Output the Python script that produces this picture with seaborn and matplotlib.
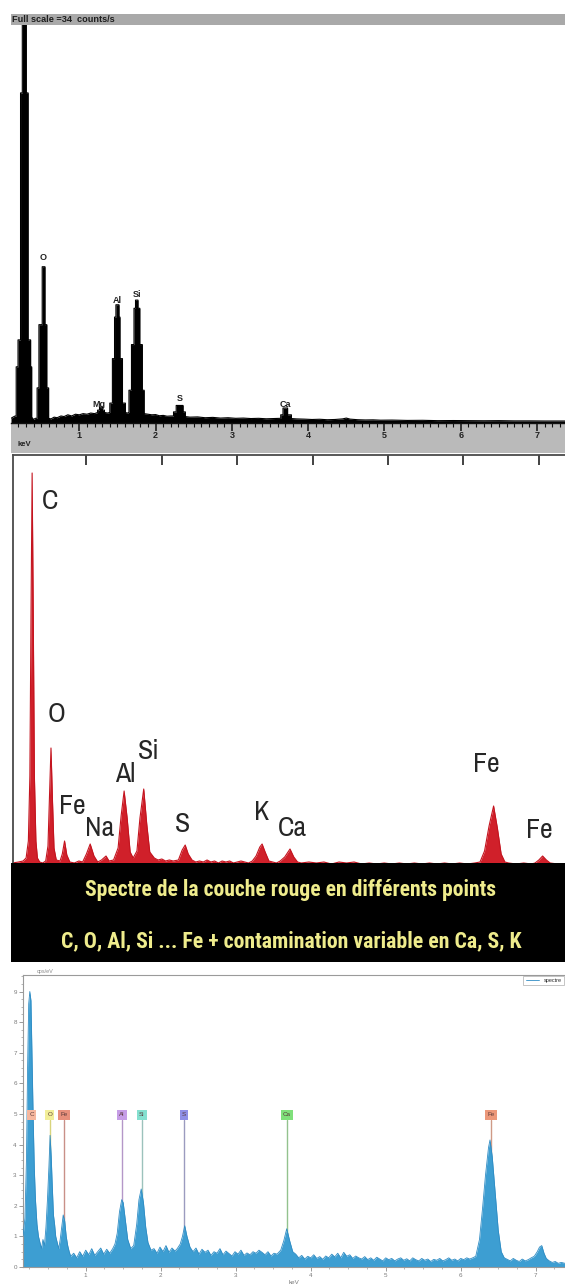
import numpy as np
import pandas as pd
import matplotlib
matplotlib.use("Agg")
import matplotlib.pyplot as plt
from matplotlib.ticker import FixedLocator, MultipleLocator, NullLocator
from matplotlib import font_manager as fm
import seaborn as sns

# ---------------------------------------------------------------- data
# Panel 1 : black EDS spectrum (counts/s, full scale 34)
p1_points = [
    (0.105, 0.4), (0.13, 0.5), (0.16, 0.6), (0.173, 0.6), (0.173, 4.8), (0.197, 4.8), (0.197, 7.1),
    (0.230, 7.1), (0.230, 28.2), (0.253, 28.2), (0.253, 45), (0.305, 45), (0.305, 28.2), (0.329, 28.2),
    (0.329, 7.1), (0.362, 7.1), (0.362, 4.8), (0.376, 4.8), (0.376, 0.5), (0.40, 0.3), (0.425, 0.4),
    (0.447, 0.4), (0.447, 3.0), (0.471, 3.0), (0.471, 8.4), (0.514, 8.4), (0.514, 13.35), (0.550, 13.35),
    (0.550, 8.4), (0.574, 8.4), (0.574, 3.0), (0.598, 3.0), (0.598, 0.4), (0.63, 0.35), (0.67, 0.5),
    (0.71, 0.45), (0.76, 0.6), (0.80, 0.55), (0.85, 0.7), (0.90, 0.6), (0.95, 0.75), (1.00, 0.7),
    (1.05, 0.8), (1.10, 0.75), (1.15, 0.85), (1.20, 0.8), (1.24, 0.9), (1.24, 1.1), (1.265, 1.1),
    (1.265, 1.37), (1.305, 1.37), (1.305, 1.1), (1.33, 1.1), (1.33, 0.9), (1.37, 0.85), (1.40, 0.9),
    (1.40, 1.7), (1.434, 1.7), (1.434, 5.5), (1.462, 5.5), (1.462, 9.05), (1.48, 9.05), (1.48, 10.1),
    (1.52, 10.1), (1.52, 9.05), (1.533, 9.05), (1.533, 5.5), (1.566, 5.5), (1.566, 1.7), (1.604, 1.7),
    (1.604, 0.9), (1.63, 0.85), (1.651, 0.9), (1.651, 2.8), (1.684, 2.8), (1.684, 6.7), (1.717, 6.7),
    (1.717, 9.8), (1.737, 9.8), (1.737, 10.5), (1.769, 10.5), (1.769, 9.8), (1.793, 9.8), (1.793, 6.7),
    (1.826, 6.7), (1.826, 2.8), (1.85, 2.8), (1.85, 0.8), (1.90, 0.75), (1.95, 0.7), (2.00, 0.72),
    (2.05, 0.62), (2.10, 0.65), (2.15, 0.58), (2.20, 0.6), (2.235, 0.6), (2.235, 0.95), (2.27, 0.95),
    (2.27, 1.5), (2.36, 1.5), (2.36, 0.95), (2.39, 0.95), (2.39, 0.55), (2.45, 0.5), (2.55, 0.52),
    (2.65, 0.45), (2.75, 0.48), (2.85, 0.42), (2.95, 0.45), (3.05, 0.4), (3.15, 0.42), (3.25, 0.38),
    (3.35, 0.4), (3.45, 0.36), (3.55, 0.38), (3.64, 0.4), (3.64, 0.7), (3.67, 0.7), (3.67, 1.28),
    (3.73, 1.28), (3.73, 0.7), (3.78, 0.7), (3.78, 0.38), (3.85, 0.35), (3.95, 0.33), (4.05, 0.3),
    (4.15, 0.32), (4.25, 0.28), (4.35, 0.3), (4.45, 0.35), (4.50, 0.42), (4.55, 0.33), (4.65, 0.28),
    (4.75, 0.26), (4.85, 0.27), (4.95, 0.24), (5.1, 0.25), (5.3, 0.22), (5.5, 0.23), (5.7, 0.2),
    (5.9, 0.21), (6.1, 0.2), (6.3, 0.19), (6.5, 0.2), (6.7, 0.18), (6.9, 0.18), (7.1, 0.17),
    (7.3, 0.17), (7.366, 0.17),
]
p1_labels = ["O", "Mg", "Al", "Si", "S", "Ca"]
p1_label_kev = [0.527, 1.258, 1.494, 1.756, 2.313, 3.70]
p1_label_cps = [14.1, 1.6, 10.5, 11.0, 2.1, 1.6]
p1_ticks = [1, 2, 3, 4, 5, 6, 7]
p1_header = "Full scale =34  counts/s"

# Panel 2 : red EDS spectrum (arbitrary counts)
p2_points = [
    (0.02, 3), (0.10, 4), (0.16, 5), (0.20, 8), (0.23, 25), (0.25, 90), (0.265, 250), (0.28, 393),
    (0.295, 250), (0.31, 90), (0.33, 25), (0.35, 8), (0.38, 4), (0.42, 3), (0.46, 5), (0.49, 20),
    (0.51, 70), (0.53, 118), (0.55, 65), (0.57, 18), (0.60, 6), (0.65, 5), (0.68, 12), (0.71, 25),
    (0.74, 11), (0.78, 4), (0.84, 3), (0.90, 5), (0.95, 4), (1.00, 12), (1.05, 22), (1.10, 10),
    (1.15, 4), (1.20, 6), (1.26, 10), (1.30, 5), (1.36, 6), (1.42, 18), (1.46, 50), (1.50, 75),
    (1.54, 48), (1.58, 14), (1.62, 8), (1.67, 15), (1.71, 48), (1.76, 77), (1.80, 42), (1.84, 14),
    (1.90, 8), (1.95, 6), (2.00, 7), (2.05, 5), (2.10, 6), (2.15, 5), (2.22, 6), (2.27, 16),
    (2.31, 21), (2.35, 12), (2.40, 6), (2.45, 4), (2.50, 5), (2.55, 4), (2.60, 6), (2.65, 4),
    (2.70, 5), (2.75, 3), (2.80, 5), (2.85, 4), (2.90, 5), (2.95, 3), (3.00, 4), (3.05, 5),
    (3.10, 4), (3.15, 3), (3.20, 5), (3.25, 10), (3.30, 19), (3.33, 22), (3.37, 14), (3.42, 5),
    (3.47, 4), (3.52, 3), (3.57, 5), (3.63, 9), (3.70, 17), (3.75, 9), (3.80, 4), (3.85, 3),
    (3.95, 4), (4.05, 3), (4.15, 4), (4.25, 2), (4.35, 4), (4.45, 3), (4.55, 4), (4.65, 2),
    (4.75, 3), (4.85, 2), (4.95, 3), (5.05, 2), (5.15, 3), (5.25, 2), (5.35, 3), (5.45, 2),
    (5.55, 3), (5.65, 2), (5.75, 3), (5.85, 2), (5.95, 3), (6.05, 2), (6.15, 3), (6.22, 4),
    (6.28, 15), (6.34, 40), (6.40, 60), (6.45, 38), (6.50, 12), (6.55, 4), (6.60, 3), (6.70, 2),
    (6.80, 3), (6.90, 2), (6.95, 3), (7.00, 6), (7.05, 10), (7.10, 6), (7.15, 3), (7.25, 2),
    (7.35, 2),
]
p2_labels = ["C", "O", "Fe", "Na", "Al", "Si", "S", "K", "Ca", "Fe", "Fe"]
p2_label_kev = [0.52, 0.60, 0.81, 1.17, 1.51, 1.82, 2.27, 3.33, 3.73, 6.30, 7.00]
p2_label_cnt = [365, 152, 60, 38, 92, 115, 42, 53, 38, 102, 35]
p2_ticks = [1, 2, 3, 4, 5, 6, 7]

# Banner text
banner_lines = ["Spectre de la couche rouge en différents points",
                "C, O, Al, Si ... Fe + contamination variable en Ca, S, K"]

# Panel 4 : blue EDS spectrum
p4_points = [
    (0.164, 1.0), (0.19, 1.6), (0.21, 3.5), (0.225, 6.5), (0.24, 8.6), (0.255, 9.0), (0.27, 8.7),
    (0.285, 6.8), (0.30, 4.8), (0.315, 3.2), (0.33, 2.2), (0.35, 1.4), (0.37, 1.0), (0.39, 0.8),
    (0.41, 0.6), (0.43, 0.9), (0.45, 0.7), (0.47, 1.3), (0.49, 2.2), (0.51, 3.3), (0.525, 4.3),
    (0.54, 3.6), (0.555, 2.6), (0.57, 1.7), (0.585, 1.4), (0.60, 1.0), (0.62, 0.8), (0.64, 0.6),
    (0.66, 0.9), (0.68, 1.3), (0.70, 1.7), (0.72, 1.5), (0.74, 1.0), (0.76, 0.7), (0.78, 0.5),
    (0.80, 0.35), (0.84, 0.45), (0.88, 0.3), (0.92, 0.5), (0.96, 0.35), (1.00, 0.55), (1.04, 0.4),
    (1.08, 0.6), (1.12, 0.38), (1.16, 0.5), (1.20, 0.62), (1.24, 0.42), (1.28, 0.58), (1.32, 0.45),
    (1.36, 0.6), (1.39, 0.75), (1.42, 1.1), (1.45, 1.8), (1.48, 2.2), (1.50, 2.1), (1.53, 1.5),
    (1.56, 0.9), (1.60, 0.6), (1.64, 0.7), (1.68, 1.4), (1.71, 2.2), (1.74, 2.55), (1.77, 2.1),
    (1.80, 1.3), (1.83, 0.8), (1.87, 0.55), (1.91, 0.6), (1.95, 0.45), (1.99, 0.65), (2.03, 0.5),
    (2.07, 0.7), (2.11, 0.48), (2.15, 0.62), (2.19, 0.52), (2.22, 0.6), (2.26, 0.75), (2.29, 1.0),
    (2.32, 1.35), (2.35, 1.0), (2.39, 0.65), (2.43, 0.5), (2.47, 0.62), (2.51, 0.42), (2.55, 0.58),
    (2.59, 0.48), (2.63, 0.55), (2.67, 0.38), (2.71, 0.5), (2.75, 0.45), (2.79, 0.6), (2.83, 0.4),
    (2.87, 0.52), (2.91, 0.44), (2.95, 0.36), (2.99, 0.5), (3.03, 0.42), (3.07, 0.55), (3.11, 0.38),
    (3.15, 0.46), (3.19, 0.4), (3.23, 0.5), (3.27, 0.45), (3.31, 0.55), (3.35, 0.48), (3.39, 0.4),
    (3.43, 0.5), (3.47, 0.36), (3.51, 0.45), (3.55, 0.42), (3.60, 0.55), (3.64, 0.85), (3.68, 1.25),
    (3.72, 0.85), (3.76, 0.5), (3.80, 0.42), (3.84, 0.3), (3.88, 0.38), (3.92, 0.26), (3.96, 0.35),
    (4.00, 0.3), (4.04, 0.4), (4.08, 0.28), (4.12, 0.34), (4.16, 0.25), (4.20, 0.36), (4.24, 0.3),
    (4.28, 0.42), (4.32, 0.33), (4.36, 0.45), (4.40, 0.3), (4.44, 0.48), (4.48, 0.35), (4.52, 0.4),
    (4.56, 0.28), (4.60, 0.36), (4.64, 0.3), (4.68, 0.26), (4.72, 0.34), (4.76, 0.24), (4.80, 0.3),
    (4.84, 0.22), (4.88, 0.32), (4.92, 0.26), (4.96, 0.2), (5.00, 0.3), (5.04, 0.24), (5.08, 0.28),
    (5.12, 0.2), (5.16, 0.26), (5.20, 0.3), (5.24, 0.22), (5.28, 0.27), (5.32, 0.2), (5.36, 0.3),
    (5.40, 0.24), (5.44, 0.2), (5.48, 0.28), (5.52, 0.22), (5.56, 0.26), (5.60, 0.18), (5.64, 0.25),
    (5.68, 0.22), (5.72, 0.28), (5.76, 0.2), (5.80, 0.24), (5.84, 0.3), (5.88, 0.22), (5.92, 0.26),
    (5.96, 0.2), (6.00, 0.28), (6.04, 0.24), (6.08, 0.3), (6.12, 0.26), (6.16, 0.3), (6.20, 0.35),
    (6.25, 0.9), (6.29, 1.9), (6.33, 3.0), (6.37, 3.9), (6.39, 4.15), (6.42, 3.6), (6.46, 2.4),
    (6.50, 1.2), (6.54, 0.5), (6.58, 0.3), (6.62, 0.25), (6.66, 0.2), (6.70, 0.28), (6.74, 0.22),
    (6.78, 0.18), (6.82, 0.26), (6.86, 0.2), (6.90, 0.24), (6.94, 0.3), (6.98, 0.35), (7.02, 0.5),
    (7.05, 0.65), (7.08, 0.7), (7.11, 0.45), (7.14, 0.28), (7.18, 0.2), (7.22, 0.15), (7.26, 0.18),
    (7.30, 0.12), (7.34, 0.15), (7.39, 0.12),
]
p4_elements = ["C", "O", "Fe", "Al", "Si", "S", "Ca", "Fe"]
p4_element_kev = [0.28, 0.52, 0.71, 1.48, 1.745, 2.31, 3.68, 6.40]
p4_element_col = ["#f6b79e", "#f2ee98", "#e8907c", "#c69de6", "#84e0cf", "#8f90e6", "#80e07b", "#ec987a"]
p4_element_line = ["#e6a58c", "#d8d47c", "#c99088", "#b497c8", "#9cc2bc", "#9b9bbf", "#93c28e", "#cf9a86"]
p4_xticks = [1, 2, 3, 4, 5, 6, 7]
p4_yticks = [0, 1, 2, 3, 4, 5, 6, 7, 8, 9]

# ---------------------------------------------------------------- style
sns.set_theme(style="white")
names = {f.name for f in fm.fontManager.ttflist}


def pick(cands):
    n = next((c for c in cands if c in names), None)
    return [n, "DejaVu Sans"] if n else ["DejaVu Sans"]


base_font = pick(["Liberation Sans"])
plt.rcParams["font.family"] = base_font
label_font = pick(["Archivo Narrow", "Roboto Condensed", "Liberation Sans Narrow"])
banner_font = pick(["Roboto Condensed", "Asap Condensed", "Liberation Sans Narrow"])

W, H = 565, 1285
fig = plt.figure(figsize=(W / 100, H / 100), dpi=100)
fig.patch.set_facecolor("white")


def rect(x0, y0, x1, y1):
    return [x0 / W, 1 - y1 / H, (x1 - x0) / W, (y1 - y0) / H]


def bare(ax):
    ax.set_xticks([])
    ax.set_yticks([])
    for s in ax.spines.values():
        s.set_visible(False)
    ax.set_xlabel("")
    ax.set_ylabel("")


# ---------------------------------------------------------------- panel 1
p1 = pd.DataFrame(p1_points, columns=["keV", "cps"])
xl1 = (0.105, 7.366)

axh = fig.add_axes(rect(11, 14, 565, 25))
axh.set_facecolor("#a9a9a9")
bare(axh)
t_head = axh.text(0.002, 0.5, p1_header, transform=axh.transAxes, ha="left", va="center",
                  fontsize=6, fontweight="bold", color="#1e1e1e")

ax1 = fig.add_axes(rect(11, 25, 565, 423))
ax1.set_facecolor("white")
ax1.fill_between(p1["keV"], p1["cps"], color="black", lw=0)
sns.lineplot(data=p1, x="keV", y="cps", sort=False, estimator=None, color="black", lw=0.8, ax=ax1)
ax1.set_xlim(*xl1)
ax1.set_ylim(0, 34)
bare(ax1)
for lab, e, c in zip(p1_labels, p1_label_kev, p1_label_cps):
    ax1.text(e, c, lab, ha="center", va="center", fontsize=6.5, fontweight="bold", color="#222")

axb = fig.add_axes(rect(11, 423, 565, 453))
axb.set_facecolor("#bababa")
axb.set_xlim(*xl1)
axb.set_ylim(0, 1)
for s in axb.spines.values():
    s.set_visible(False)
axb.spines["top"].set_visible(True)
axb.spines["top"].set_color("#111")
axb.spines["top"].set_linewidth(1.0)
axb.xaxis.set_major_locator(FixedLocator(p1_ticks))
axb.xaxis.set_minor_locator(MultipleLocator(0.1))
axb.yaxis.set_major_locator(NullLocator())
axb.tick_params(axis="x", which="both", top=True, bottom=False, direction="in",
                labelbottom=False, labeltop=False, color="#111")
axb.tick_params(axis="x", which="major", length=6, width=1.1)
axb.tick_params(axis="x", which="minor", length=3, width=0.8)
for v in p1_ticks:
    axb.text(v, 0.6, str(v), transform=axb.get_xaxis_transform(), ha="center", va="center",
             fontsize=6.5, fontweight="bold", color="#222")
axb.text(0.012, 0.27, "keV", transform=axb.transAxes, ha="left", va="center",
         fontsize=5.5, fontweight="bold", color="#222")

# ---------------------------------------------------------------- panel 2
p2 = pd.DataFrame(p2_points, columns=["keV", "counts"])
ax2 = fig.add_axes(rect(12.6, 455, 565, 866))
ax2.set_facecolor("white")
ax2.fill_between(p2["keV"], p2["counts"], color="#d0202a", lw=0)
sns.lineplot(data=p2, x="keV", y="counts", sort=False, estimator=None, color="#c4141f", lw=0.8, ax=ax2)
ax2.set_xlim(0.021, 7.347)
ax2.set_ylim(0, 411)
ax2.set_xlabel("")
ax2.set_ylabel("")
ax2.yaxis.set_major_locator(NullLocator())
ax2.xaxis.set_major_locator(FixedLocator(p2_ticks))
ax2.tick_params(axis="x", which="major", top=True, bottom=False, direction="in", length=7,
                width=1.3, color="#333", labelbottom=False, labeltop=False)
for side, s in ax2.spines.items():
    s.set_color("#4a4a4a")
    s.set_linewidth(1.3)
ax2.spines["right"].set_visible(False)
for lab, e, c in zip(p2_labels, p2_label_kev, p2_label_cnt):
    ax2.text(e, c, lab, ha="center", va="center", fontsize=20, family=label_font, color="#262626")

# ---------------------------------------------------------------- banner
axt = fig.add_axes(rect(11, 863, 565, 962))
axt.set_facecolor("black")
bare(axt)
ban1 = axt.text(0.505, 0.725, banner_lines[0], transform=axt.transAxes, ha="center", va="center",
                fontsize=16, fontweight="bold", family=banner_font, color="#efec8c")
ban2 = axt.text(0.505, 0.21, banner_lines[1], transform=axt.transAxes, ha="center", va="center",
                fontsize=16, fontweight="bold", family=banner_font, color="#efec8c")

# ---------------------------------------------------------------- panel 4
p4 = pd.DataFrame(p4_points, columns=["keV", "cps/eV"])
ax4 = fig.add_axes(rect(23, 975, 565, 1267))
ax4.set_facecolor("white")
for e, col, lcol in zip(p4_element_kev, p4_element_col, p4_element_line):
    ax4.plot([e, e], [0, 4.8], color=lcol, lw=1.0, zorder=1)
ax4.fill_between(p4["keV"], p4["cps/eV"], color="#3d9ed2", lw=0, zorder=2)
sns.lineplot(data=p4, x="keV", y="cps/eV", sort=False, estimator=None, color="#2f8cc4", lw=0.6,
             ax=ax4, zorder=3, label="spectre")
for lab, e, col in zip(p4_elements, p4_element_kev, p4_element_col):
    ax4.text(e, 4.97, lab, ha="center", va="center", fontsize=4.5, color="#5a3a3a", zorder=4,
             bbox=dict(boxstyle="square,pad=0.35", fc=col, ec="none"))
ax4.set_xlim(0.164, 7.39)
ax4.set_ylim(0, 9.54)
ax4.xaxis.set_major_locator(FixedLocator(p4_xticks))
ax4.xaxis.set_minor_locator(MultipleLocator(0.25))
ax4.yaxis.set_major_locator(FixedLocator(p4_yticks))
ax4.yaxis.set_minor_locator(MultipleLocator(0.25))
ax4.tick_params(axis="both", which="major", bottom=True, left=True, direction="out", length=3,
                width=0.6, color="#8a8a8a", labelsize=4.5, labelcolor="#7a7a7a", pad=1.5)
ax4.tick_params(axis="both", which="minor", bottom=True, left=True, direction="out", length=1.5,
                width=0.5, color="#9a9a9a")
ax4.set_xlabel("keV", fontsize=4.5, color="#7a7a7a", labelpad=1)
ax4.set_ylabel("")
for side, s in ax4.spines.items():
    s.set_color("#9a9a9a")
    s.set_linewidth(0.8)
ax4.spines["right"].set_visible(False)
ax4.text(0.025, 1.004, "cps/eV", transform=ax4.transAxes, ha="left", va="bottom", fontsize=4,
         color="#8a8a8a")
leg = ax4.legend(loc="upper right", fontsize=4, frameon=True, handlelength=2.5,
                 borderpad=0.4, borderaxespad=0.15, fancybox=False)
leg.get_frame().set_edgecolor("#aaaaaa")
leg.get_frame().set_linewidth(0.6)

# ---------------------------------------------------------------- fit text widths
fig.canvas.draw()
r = fig.canvas.get_renderer()
for t, target in [(ban1, 410), (ban2, 460), (t_head, 104)]:
    w = t.get_window_extent(r).width
    t.set_fontsize(t.get_fontsize() * target / w)

fig.savefig("out.png", dpi=100, facecolor="white")
